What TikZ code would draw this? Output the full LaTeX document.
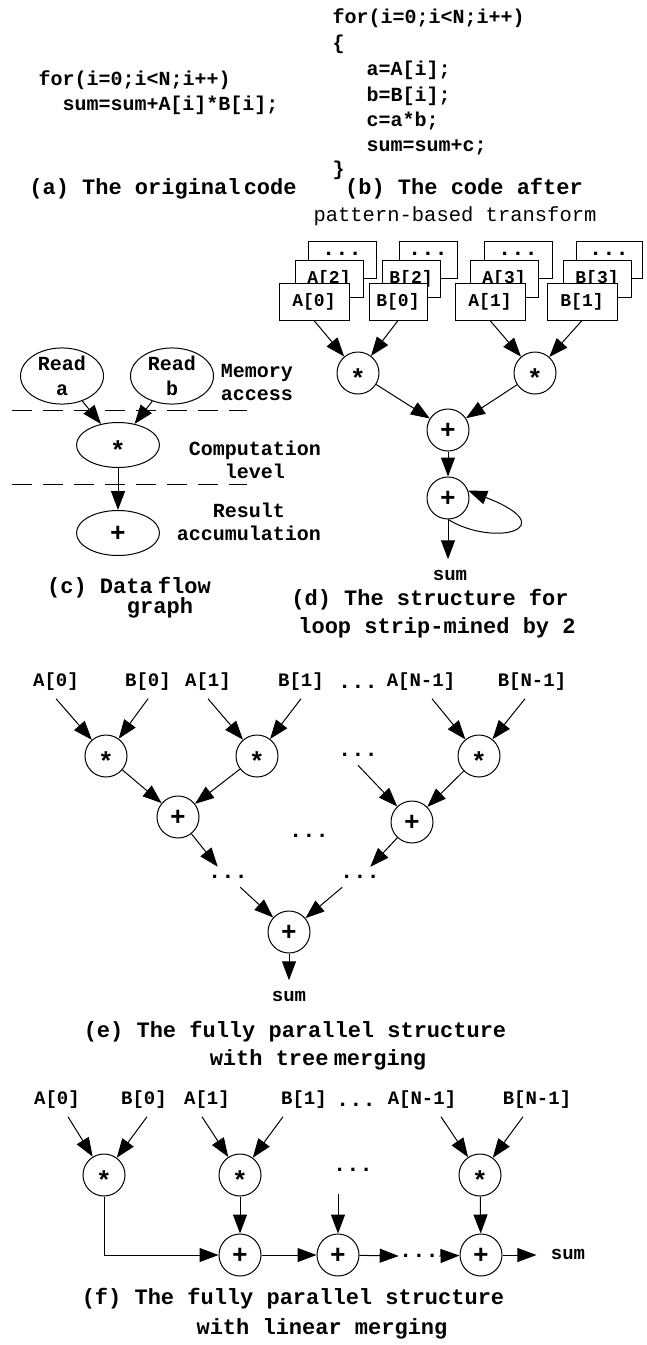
\documentclass[tikz,border=0pt]{standalone}
\usepackage{fontspec}
\newfontfamily\cm{Liberation Mono}
\usetikzlibrary{arrows.meta,shapes.geometric}
\newcommand\opmul{\raisebox{-9pt}{*}}
\newcommand\oppls{\raisebox{-3.5pt}{+}}
\begin{document}
\begin{tikzpicture}[x=1pt,y=-1pt,line width=1pt,
  txt/.style={font=\cm\bfseries\fontsize{20}{24}\selectfont, inner sep=0pt, text height=14pt, text depth=4pt},
  code/.style={txt, anchor=west},
  capt/.style={font=\cm\bfseries\fontsize{22}{26}\selectfont, inner sep=0pt, text height=15pt, text depth=4.5pt},
  captl/.style={font=\cm\fontsize{20.5}{24}\selectfont, inner sep=0pt, text height=14pt, text depth=4pt},
  lbl/.style={font=\cm\bfseries\fontsize{19}{23}\selectfont, inner xsep=0pt, inner ysep=0pt, text height=13.5pt, text depth=4pt, outer ysep=8pt},
  dotsn/.style={font=\cm\bfseries\fontsize{22}{24}\selectfont, inner xsep=0pt, inner ysep=8pt, text height=3.5pt, text depth=0pt},
  opn/.style={circle, draw, minimum size=42pt, inner sep=0pt, font=\cm\bfseries\fontsize{26}{26}\selectfont, text height=10pt, text depth=0pt},
  elln/.style={ellipse, draw, minimum width=83pt, minimum height=45pt, inner sep=0pt, align=center, font=\cm\bfseries\fontsize{20}{25}\selectfont},
  ellop/.style={ellipse, draw, minimum width=83pt, minimum height=45pt, inner sep=0pt, font=\cm\bfseries\fontsize{26}{26}\selectfont, text height=10pt, text depth=0pt},
  bx/.style={draw, fill=white, minimum height=37pt, inner sep=0pt, font=\cm\bfseries\fontsize{18}{22}\selectfont},
  arr/.style={-{Triangle[length=19pt,width=14pt]}},
  dline/.style={dash pattern=on 20pt off 11pt}
]
\useasboundingbox (0,0) rectangle (646,1345);

% ---------- (a) ----------
\node[code] (a1) at (38,80) {for(i=0;i<N;i++)};
\node[code] (a2) at (62,105) {sum=sum+A[i]*B[i];};
\node[capt] (capa) at (163,189) {(a) The original\kern-10pt\ code};

% ---------- (b) ----------
\node[code] (b1) at (332,18) {for(i=0;i<N;i++)};
\node[code] (b2) at (332,44) {\{};
\node[code] (b3) at (366,70) {a=A[i];};
\node[code] (b4) at (366,96) {b=B[i];};
\node[code] (b5) at (366,121) {c=a*b;};
\node[code] (b6) at (366,146) {sum=sum+c;};
\node[code] (b7) at (332,170) {\}};
\node[capt] (capb) at (464,189) {(b) The code after};
\node[captl] (capb2) at (455,216) {pattern-based transform};

% ---------- (d) ----------
\node[bx, minimum width=68pt] (A0c) at (342,259.5) {};
\node[dotsn] (A0d) at (342,254) {...};
\node[bx, minimum width=68pt] (A0b) at (329,278.5) {A[2]};
\node[bx, minimum width=70pt] (A0a) at (314,301.5) {A[0]};
\node[bx, minimum width=58pt] (B0c) at (428,259.5) {};
\node[dotsn] (B0d) at (428,254) {...};
\node[bx, minimum width=58pt] (B0b) at (411,278.5) {B[2]};
\node[bx, minimum width=58pt] (B0a) at (398,301.5) {B[0]};
\node[bx, minimum width=68pt] (A1c) at (518,259.5) {};
\node[dotsn] (A1d) at (518,254) {...};
\node[bx, minimum width=68pt] (A1b) at (504,278.5) {A[3]};
\node[bx, minimum width=70pt] (A1a) at (490,301.5) {A[1]};
\node[bx, minimum width=66pt] (B1c) at (609,259.5) {};
\node[dotsn] (B1d) at (609,254) {...};
\node[bx, minimum width=68pt] (B1b) at (597,278.5) {B[3]};
\node[bx, minimum width=70pt] (B1a) at (582,301.5) {B[1]};

\node[opn] (dm1) at (358,373) {\opmul};
\node[opn] (dm2) at (535,373) {\opmul};
\node[opn] (dp1) at (448,430) {\oppls};
\node[opn] (dp2) at (448,498) {\oppls};
\node[lbl] (dsum) at (450,576) {sum};

\draw[arr] (A0a.south) -- (dm1);
\draw[arr] (B0a.south) -- (dm1);
\draw[arr] (A1a.south) -- (dm2);
\draw[arr] (B1a.south) -- (dm2);
\draw[arr] (dm1) -- (dp1);
\draw[arr] (dm2) -- (dp1);
\draw[arr] (dp1) -- (dp2);
\draw[arr] (dp2) -- (dp2 |- dsum.north);
\draw[arr] (dp2.south) .. controls (495,548) and (565,528) .. (dp2.20);

\node[capt] (capd1) at (430,600) {(d) The structure for};
\node[capt] (capd2) at (437,628) {loop strip-mined by 2};

% ---------- (c) ----------
\node[elln] (ra) at (62,376) {Read\\a};
\node[elln] (rb) at (172,376) {Read\\b};
\node[ellop] (cm) at (118,445) {\opmul};
\node[ellop] (ca) at (118,533) {\oppls};
\draw[dline] (12,410) -- (247,410);
\draw[dline] (12,484) -- (247,484);
\draw[arr] (ra) -- (cm);
\draw[arr] (rb) -- (cm);
\draw[arr] (cm) -- (ca);
\node[txt] (mem1) at (257,372) {Memory};
\node[txt] (mem2) at (257,395) {access};
\node[txt] (cmp1) at (255,450) {Computation};
\node[txt] (cmp2) at (255,473) {level};
\node[txt] (res1) at (249,512) {Result};
\node[txt] (res2) at (249,535) {accumulation};
\node[capt] (capc1) at (129,588) {(c) Data\kern-8pt\ flow};
\node[capt] (capc2) at (160,608) {graph};

% ---------- (e) ----------
\node[lbl] (eA0) at (56,682) {A[0]};
\node[lbl] (eB0) at (148,682) {B[0]};
\node[lbl] (eA1) at (208,682) {A[1]};
\node[lbl] (eB1) at (301,682) {B[1]};
\node[dotsn] (eDt) at (358,687) {...};
\node[lbl] (eAN) at (421,682) {A[N-1]};
\node[lbl] (eBN) at (532,682) {B[N-1]};
\node[opn] (em1) at (106,756) {\opmul};
\node[opn] (em2) at (257,756) {\opmul};
\node[dotsn] (eDs) at (358,755) {...};
\node[opn] (emN) at (479,756) {\opmul};
\node[opn] (epl) at (178,817) {\oppls};
\node[opn] (epr) at (412,822) {\oppls};
\node[dotsn] (eDm) at (309,836) {...};
\node[dotsn] (eDl) at (228,877) {...};
\node[dotsn] (eDr) at (360,877) {...};
\node[opn] (epb) at (289,932) {\oppls};
\node[lbl] (esum) at (289,997) {sum};

\draw[arr] (eA0.south) -- (em1);
\draw[arr] (eB0.south) -- (em1);
\draw[arr] (eA1.south) -- (em2);
\draw[arr] (eB1.south) -- (em2);
\draw[arr] ([xshift=11pt]eAN.south) -- (emN);
\draw[arr] ([xshift=-7pt]eBN.south) -- (emN);
\draw[arr] (em1) -- (epl);
\draw[arr] (em2) -- (epl);
\draw[arr] (eDs.south) -- (epr);
\draw[arr] (emN) -- (epr);
\draw[arr] (epl) -- (eDl.135);
\draw[arr] (epr) -- (eDr.45);
\draw[arr] (eDl.-40) -- (epb);
\draw[arr] (eDr.-150) -- (epb);
\draw[arr] (epb) -- (esum);

\node[capt] (cape1) at (295,1032) {(e) The fully parallel structure};
\node[capt] (cape2) at (318,1060) {with tree\kern-8pt\ merging};

% ---------- (f) ----------
\node[lbl] (fA0) at (57,1100) {A[0]};
\node[lbl] (fB0) at (144,1100) {B[0]};
\node[lbl] (fA1) at (207,1100) {A[1]};
\node[lbl] (fB1) at (304,1100) {B[1]};
\node[dotsn] (fDt) at (356,1105) {...};
\node[lbl] (fAN) at (422,1100) {A[N-1]};
\node[lbl] (fBN) at (537,1100) {B[N-1]};
\node[opn] (fm1) at (104,1175) {\opmul};
\node[opn] (fm2) at (240,1175) {\opmul};
\node[dotsn] (fDs) at (353,1170) {...};
\node[opn] (fmN) at (480,1175) {\opmul};
\node[opn] (fp1) at (240,1255) {\oppls};
\node[opn] (fp2) at (338,1255) {\oppls};
\node[dotsn] (fDp) at (419,1256) {...};
\node[opn] (fpN) at (481,1255) {\oppls};
\node[lbl] (fsum) at (568,1255) {sum};
\coordinate (fin) at (338,1194);

\draw[arr] ([xshift=11pt]fA0.south) -- (fm1);
\draw[arr] ([xshift=3pt]fB0.south) -- (fm1);
\draw[arr] ([xshift=-5pt]fA1.south) -- (fm2);
\draw[arr] ([xshift=-21pt]fB1.south) -- (fm2);
\draw[arr] ([xshift=19pt]fAN.south) -- (fmN);
\draw[arr] ([xshift=-14pt]fBN.south) -- (fmN);
\draw[arr] (fm1.south) |- (fp1.west);
\draw[arr] (fm2) -- (fp1);
\draw[arr] (fin) -- (fp2);
\draw[arr] (fmN) -- (fpN);
\draw[arr] (fp1) -- (fp2);
\draw[arr] (fp2) -- (fDp.west);
\draw[arr] (fDp.east) -- (fpN);
\draw[arr] (fpN) -- ([xshift=-14pt]fsum.west);

\node[capt] (capf1) at (293,1299) {(f) The fully parallel structure};
\node[capt] (capf2) at (322,1329) {with linear merging};
\end{tikzpicture}
\end{document}
